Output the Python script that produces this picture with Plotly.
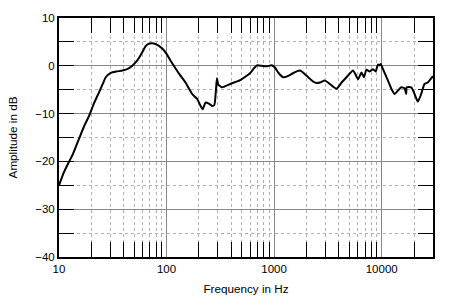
import plotly.graph_objects as go

freq_hz = [10, 11, 12, 13.4, 15.4, 17, 19.1, 21, 23.6, 25.5, 27.2, 30.3, 34, 38.9, 44, 48.1,
           52, 55.5, 60, 63.9, 68, 73.8, 82, 91.2, 100, 108, 117, 132, 150, 173, 192, 206,
           217, 230, 247, 265, 278, 288, 294, 302, 327, 392, 484, 540, 600, 650, 692, 769,
           855, 950, 1021, 1100, 1219, 1356, 1509, 1741, 2006, 2312, 2500, 2666, 2964, 3300,
           3805, 4234, 4712, 5424, 6036, 6484, 6855, 7205, 7745, 8318, 8800, 9240, 9580, 9800,
           10280, 11440, 12300, 13200, 14170, 15220, 16330, 16900, 17100, 18850, 20200, 21700,
           23300, 25000, 26800, 29400, 30000]
amp_db = [-25, -22.5, -20.7, -18.6, -15.2, -12.8, -10.4, -8, -5.5, -3.8, -2.4, -1.5, -1.2, -1.0, -0.6, 0.0,
          0.8, 1.7, 3.0, 4.1, 4.6, 4.7, 4.4, 3.6, 2.5, 1.2, 0, -1.8, -3.5, -5.9, -6.9, -8.3,
          -9.1, -7.7, -7.9, -8.4, -8.2, -5, -2.6, -3.9, -4.5, -3.8, -3.0, -2.3, -1.5, -0.5, 0.1, 0,
          -0.1, 0.1, -0.4, -1.5, -2.4, -2.1, -1.5, -1.0, -2.1, -3.3, -3.6, -3.5, -3.1, -3.8,
          -4.8, -3.5, -2.4, -1.0, -2.8, -1.4, -2.4, -0.8, -1.2, -0.7, -1.2, 0.3, 0.1, 0.4,
          -0.7, -3.1, -4.8, -5.9, -5.2, -4.5, -4.7, -5.9, -4.5, -4.5, -5.9, -7.5,
          -5.9, -3.8, -3.5, -2.4, -2.2]

x_ticks = [10, 100, 1000, 10000]
x_tick_labels = ["10", "100", "1000", "10000"]
y_ticks = [-40, -30, -20, -10, 0, 10]

font = "Liberation Sans, Arial, sans-serif"

fig = go.Figure()
fig.add_trace(go.Scatter(x=freq_hz, y=amp_db, mode="lines",
                         line=dict(color="black", width=2, shape="spline", smoothing=0.5),
                         showlegend=False, hoverinfo="skip"))

fig.update_layout(
    width=450, height=308,
    margin=dict(l=58, r=17, t=15, b=51),
    paper_bgcolor="white", plot_bgcolor="white",
    font=dict(family=font, size=11, color="black"),
    xaxis=dict(
        type="log", range=[1, 4.4771],
        tickvals=x_ticks, ticktext=x_tick_labels,
        ticks="", showline=True, linecolor="black", linewidth=2, mirror="allticks",
        showgrid=True, gridcolor="#888888", gridwidth=1,
        tickfont=dict(size=11.5),
        title=dict(text="Frequency in Hz", font=dict(size=11.7), standoff=11),
        minor=dict(ticks="inside", ticklen=15, tickwidth=1, tickcolor="black",
                   showgrid=True, gridcolor="#b0b0b0", griddash="dot", gridwidth=1,
                   tickvals=[v * d for d in (10, 100, 1000) for v in range(2, 10)] + [20000, 30000]),
        zeroline=False,
    ),
    yaxis=dict(
        range=[-40, 10], tickvals=y_ticks,
        ticks="inside", ticklen=15, tickwidth=1, tickcolor="black",
        showline=True, linecolor="black", linewidth=2, mirror="allticks",
        showgrid=True, gridcolor="#888888", gridwidth=1,
        tickfont=dict(size=11.5),
        title=dict(text="Amplitude in dB", font=dict(size=11.7), standoff=15),
        minor=dict(dtick=5, ticks="inside", ticklen=15, tickwidth=1, tickcolor="black",
                   showgrid=True, gridcolor="#b0b0b0", griddash="dot", gridwidth=1),
        zeroline=False,
    ),
)

fig.write_html("out.html")
